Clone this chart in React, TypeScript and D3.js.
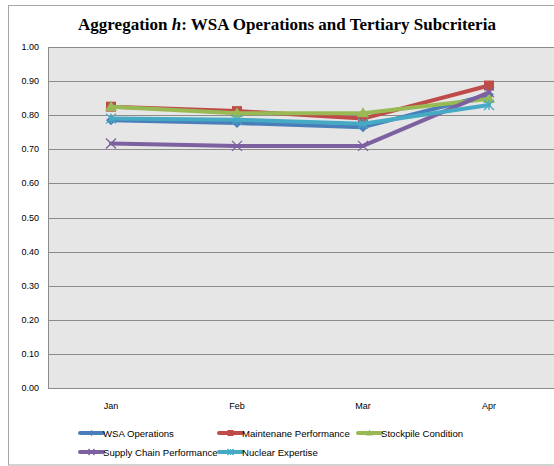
import React from "react";
import * as d3 from "d3";

const categories = ["Jan", "Feb", "Mar", "Apr"];
const seriesNames = [
  "WSA Operations",
  "Maintenane Performance",
  "Stockpile Condition",
  "Supply Chain Performance",
  "Nuclear Expertise",
];
const wsaOperations = [0.785, 0.777, 0.765, 0.86];
const maintenancePerformance = [0.825, 0.812, 0.79, 0.887];
const stockpileCondition = [0.825, 0.806, 0.806, 0.848];
const supplyChainPerformance = [0.717, 0.71, 0.71, 0.867];
const nuclearExpertise = [0.79, 0.787, 0.775, 0.83];
const yTicks = [0, 0.1, 0.2, 0.3, 0.4, 0.5, 0.6, 0.7, 0.8, 0.9, 1.0];

const colors = ["#4a7ebb", "#be4b48", "#98b954", "#7d60a0", "#46aac5"];
const markers = ["diamond", "square", "triangle", "x", "star"];
const allSeries = [wsaOperations, maintenancePerformance, stockpileCondition, supplyChainPerformance, nuclearExpertise];

function Marker({ type, x, y, color, k = 1 }: { type: string; x: number; y: number; color: string; k?: number }) {
  if (type === "diamond") {
    const s = 5 * k;
    return <path d={`M${x},${y - s}L${x + s},${y}L${x},${y + s}L${x - s},${y}Z`} fill={color} />;
  }
  if (type === "square") {
    const s = 5 * k;
    return <rect x={x - s} y={y - s} width={2 * s} height={2 * s} fill={color} />;
  }
  if (type === "triangle") {
    const s = 6 * k;
    return <path d={`M${x},${y - s}L${x + s},${y + s * 0.7}L${x - s},${y + s * 0.7}Z`} fill={color} />;
  }
  if (type === "x") {
    const s = 5 * k;
    return (
      <path d={`M${x - s},${y - s}L${x + s},${y + s}M${x - s},${y + s}L${x + s},${y - s}`} stroke={color} strokeWidth={1.3} fill="none" />
    );
  }
  const s = 5 * k;
  return (
    <path
      d={`M${x - s},${y - s}L${x + s},${y + s}M${x - s},${y + s}L${x + s},${y - s}M${x},${y - s}L${x},${y + s}`}
      stroke={color}
      strokeWidth={1.3}
      fill="none"
    />
  );
}

export default function App() {
  const W = 554;
  const H = 466;
  const left = 48;
  const right = 552;
  const top = 47;
  const bottom = 388;

  const x = d3.scaleBand().domain(categories).range([left, right]);
  const y = d3.scaleLinear().domain([0, 1]).range([bottom, top]);
  const cx = (c: string) => (x(c) as number) + x.bandwidth() / 2;

  const line = d3
    .line<number>()
    .x((_, i) => cx(categories[i]))
    .y((d) => y(d));

  const font = "'Liberation Sans', Arial, sans-serif";

  const legendItems = [
    { i: 0, lx: 80, ly: 433 },
    { i: 1, lx: 219, ly: 433 },
    { i: 2, lx: 358, ly: 433 },
    { i: 3, lx: 80, ly: 452 },
    { i: 4, lx: 219, ly: 452 },
  ];

  return (
    <svg
      width={W}
      height={H}
      style={{ position: "absolute", left: 0, top: 0, background: "#ffffff" }}
    >
      <rect x={8.5} y={5.5} width={W} height={459.5} fill="#ffffff" stroke="#a6a6a6" strokeWidth={1} />
      <text
        x={287}
        y={30}
        textAnchor="middle"
        fontFamily="'Liberation Serif', 'Times New Roman', serif"
        fontWeight="bold"
        fontSize={17}
        fill="#000"
      >
        Aggregation <tspan fontStyle="italic">h</tspan>:  WSA Operations and Tertiary Subcriteria
      </text>
      <rect x={left} y={top} width={right - left + 10} height={bottom - top} fill="#e6e6e6" />
      {yTicks.map((t) => (
        <line
          key={t}
          x1={left}
          x2={W}
          y1={Math.round(y(t)) + 0.5}
          y2={Math.round(y(t)) + 0.5}
          stroke="#8c8c8c"
          strokeWidth={1}
        />
      ))}
      <line x1={left + 0.5} x2={left + 0.5} y1={top} y2={bottom + 0.5} stroke="#8c8c8c" strokeWidth={1} />
      {yTicks.map((t) => (
        <text
          key={"l" + t}
          x={39}
          y={y(t) + 3}
          textAnchor="end"
          fontFamily={font}
          fontSize={9}
          fill="#000"
        >
          {t.toFixed(2)}
        </text>
      ))}
      {categories.map((c) => (
        <text key={c} x={cx(c)} y={409} textAnchor="middle" fontFamily={font} fontSize={9} fill="#000">
          {c}
        </text>
      ))}
      {allSeries.map((s, si) => (
        <g key={si}>
          <path d={line(s) || ""} fill="none" stroke={colors[si]} strokeWidth={4} strokeLinejoin="round" strokeLinecap="round" />
          {s.map((v, i) => (
            <Marker key={i} type={markers[si]} x={cx(categories[i])} y={y(v)} color={colors[si]} />
          ))}
        </g>
      ))}
      {legendItems.map(({ i, lx, ly }) => (
        <g key={i}>
          <line x1={lx} x2={lx + 23} y1={ly} y2={ly} stroke={colors[i]} strokeWidth={4} strokeLinecap="round" />
          <Marker type={markers[i]} x={lx + 11.5} y={ly} color={colors[i]} k={0.6} />
          <text x={lx + 23} y={ly + 3.5} fontFamily={font} fontSize={9.6} fill="#000">
            {seriesNames[i]}
          </text>
        </g>
      ))}
    </svg>
  );
}
